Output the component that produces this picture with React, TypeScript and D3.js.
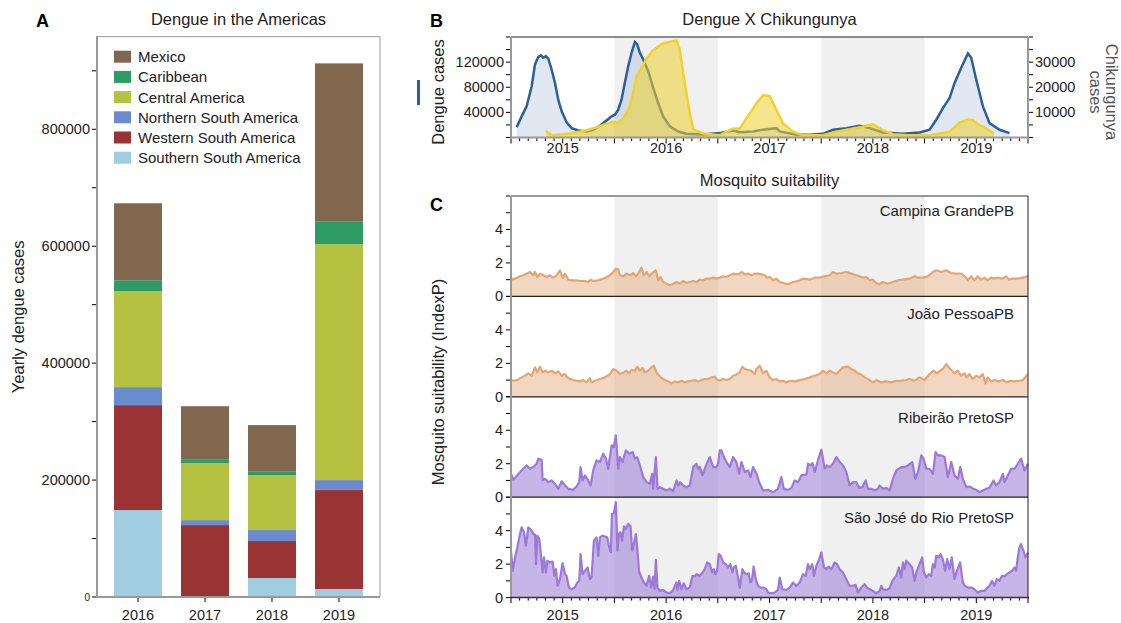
import React, { useEffect, useRef } from 'react'
import * as d3 from 'd3'

const FONT = '"Liberation Sans", Arial, Helvetica, sans-serif'

// ---- Panel A: yearly dengue cases by region ----
const barYears = ['2016', '2017', '2018', '2019']
const regionNames = ['Mexico', 'Caribbean', 'Central America', 'Northern South America', 'Western South America', 'Southern South America']
const regionColors = ['#80674d', '#2f9b64', '#b5c141', '#6a8bcd', '#9a3333', '#a1cde0']
const mexico = [131600, 90600, 79800, 270000]
const caribbean = [18800, 6800, 5700, 39300]
const centralAmerica = [164000, 97400, 94000, 403400]
const northernSA = [30800, 8500, 18800, 17100]
const westernSA = [179500, 123000, 63200, 169200]
const southernSA = [148700, 0, 32500, 13700]

// ---- Panel B: dengue vs chikungunya (decimal year, cases) ----
const dengueCases: [number, number][] = [
  [2014.555, 16500], [2014.603, 33600], [2014.651, 49600], [2014.700, 81600], [2014.732, 116300], [2014.764, 128500],
  [2014.790, 130700], [2014.812, 127000], [2014.838, 129600], [2014.861, 125300], [2014.893, 108300], [2014.925, 87000],
  [2014.957, 60300], [2014.990, 41600], [2015.038, 24000], [2015.086, 14900], [2015.151, 11200], [2015.231, 9600],
  [2015.295, 12300], [2015.360, 18700], [2015.424, 27200], [2015.473, 33600], [2015.505, 36300], [2015.537, 44300],
  [2015.569, 60300], [2015.601, 87000], [2015.634, 113600], [2015.666, 134900], [2015.698, 152000], [2015.721, 148300],
  [2015.746, 134900], [2015.779, 124200], [2015.827, 105500], [2015.875, 78900], [2015.923, 54900], [2015.972, 33600],
  [2016.036, 17600], [2016.117, 9600], [2016.197, 5900], [2016.358, 4800], [2016.519, 7000], [2016.648, 11200],
  [2016.712, 8500], [2016.841, 9600], [2016.970, 13300], [2017.067, 14900], [2017.099, 9600], [2017.260, 4300],
  [2017.389, 4300], [2017.518, 5900], [2017.614, 12300], [2017.743, 14900], [2017.872, 18700], [2017.969, 14900],
  [2018.097, 8000], [2018.291, 5900], [2018.452, 8000], [2018.548, 12300], [2018.613, 28300], [2018.677, 46900],
  [2018.742, 62900], [2018.790, 86900], [2018.854, 110900], [2018.919, 133900], [2018.951, 126900], [2018.999, 92300],
  [2019.064, 49600], [2019.128, 22900], [2019.225, 12300], [2019.321, 6900],
]
const chikCases: [number, number][] = [
  [2014.838, 2700], [2014.893, 900], [2015.070, 1600], [2015.231, 2900], [2015.360, 4500], [2015.489, 6300],
  [2015.521, 5600], [2015.585, 7600], [2015.650, 12200], [2015.714, 24200], [2015.811, 31500], [2015.875, 34800],
  [2015.972, 37500], [2016.101, 38600], [2016.133, 34800], [2016.181, 21500], [2016.229, 9600], [2016.262, 3200],
  [2016.358, 1600], [2016.519, 900], [2016.648, 3600], [2016.712, 3600], [2016.809, 9600], [2016.874, 13600],
  [2016.938, 16900], [2017.002, 16500], [2017.067, 10900], [2017.131, 5600], [2017.228, 2300], [2017.324, 900],
  [2017.518, 900], [2017.647, 2300], [2017.808, 3600], [2017.904, 4300], [2018.001, 5300], [2018.097, 2900],
  [2018.194, 1300], [2018.355, 900], [2018.548, 900], [2018.742, 2300], [2018.838, 5900], [2018.919, 7200],
  [2018.967, 6900], [2019.031, 4900], [2019.096, 3600], [2019.170, 1600],
]

// ---- Panel C: mosquito suitability index P (decimal year, index) ----
const stationNames = ['Campina GrandePB', 'João PessoaPB', 'Ribeirão PretoSP', 'São José do Rio PretoSP']
const stationColors = ['#e3a673', '#e3a673', '#9b79d6', '#9b79d6']

const campinaGrande: [number, number][] = [
  [2014.500, 1.0], [2014.539, 1.06], [2014.587, 1.2], [2014.619, 1.26], [2014.651, 1.36], [2014.684, 1.46], [2014.716, 1.26],
  [2014.732, 1.46], [2014.754, 1.16], [2014.780, 1.36], [2014.812, 1.26], [2014.845, 1.16], [2014.877, 1.26], [2014.909, 1.12],
  [2014.941, 1.26], [2014.973, 1.56], [2014.999, 1.12], [2015.022, 1.36], [2015.054, 1.0], [2015.086, 0.96], [2015.134, 0.96],
  [2015.167, 0.92], [2015.215, 0.92], [2015.247, 0.86], [2015.270, 1.0], [2015.295, 0.92], [2015.344, 0.96], [2015.392, 1.06],
  [2015.440, 1.2], [2015.482, 1.4], [2015.514, 1.66], [2015.537, 1.6], [2015.553, 1.26], [2015.585, 1.2], [2015.617, 1.36],
  [2015.650, 1.26], [2015.682, 1.4], [2015.708, 1.2], [2015.730, 1.36], [2015.762, 1.72], [2015.785, 1.26], [2015.811, 1.46],
  [2015.836, 1.2], [2015.859, 1.36], [2015.881, 1.46], [2015.901, 1.56], [2015.923, 0.96], [2015.946, 1.16], [2015.972, 0.86],
  [2016.004, 0.76], [2016.036, 0.66], [2016.068, 0.76], [2016.100, 0.86], [2016.133, 0.76], [2016.165, 0.92], [2016.197, 0.8],
  [2016.229, 0.86], [2016.261, 0.92], [2016.294, 0.86], [2016.326, 1.0], [2016.358, 0.96], [2016.390, 1.06], [2016.422, 1.06],
  [2016.455, 1.12], [2016.487, 1.06], [2016.519, 1.12], [2016.551, 1.2], [2016.583, 1.16], [2016.616, 1.26], [2016.648, 1.36],
  [2016.680, 1.32], [2016.712, 1.36], [2016.732, 1.46], [2016.761, 1.32], [2016.793, 1.36], [2016.825, 1.26], [2016.857, 1.36],
  [2016.889, 1.36], [2016.921, 1.32], [2016.954, 1.26], [2016.976, 1.12], [2017.002, 1.16], [2017.034, 0.96], [2017.066, 1.06],
  [2017.099, 0.86], [2017.131, 0.8], [2017.180, 0.72], [2017.228, 0.86], [2017.276, 0.92], [2017.324, 1.06], [2017.389, 1.0],
  [2017.437, 1.12], [2017.485, 1.12], [2017.533, 1.2], [2017.582, 1.26], [2017.614, 1.46], [2017.646, 1.36], [2017.694, 1.4],
  [2017.743, 1.46], [2017.791, 1.36], [2017.839, 1.26], [2017.871, 1.2], [2017.904, 1.12], [2017.936, 1.16], [2017.968, 0.96],
  [2018.000, 1.0], [2018.032, 0.8], [2018.065, 0.72], [2018.097, 0.86], [2018.145, 0.76], [2018.193, 0.86], [2018.242, 0.96],
  [2018.290, 1.0], [2018.354, 1.06], [2018.403, 1.2], [2018.435, 1.12], [2018.483, 1.12], [2018.532, 1.2], [2018.580, 1.46],
  [2018.612, 1.56], [2018.661, 1.46], [2018.709, 1.56], [2018.757, 1.4], [2018.805, 1.36], [2018.853, 1.36], [2018.902, 1.12],
  [2018.918, 0.96], [2018.950, 1.2], [2018.982, 0.96], [2019.014, 1.2], [2019.047, 1.0], [2019.079, 1.12], [2019.111, 0.96],
  [2019.143, 1.12], [2019.175, 1.06], [2019.208, 1.12], [2019.257, 1.06], [2019.289, 1.2], [2019.315, 1.0], [2019.353, 1.06],
  [2019.401, 1.06], [2019.450, 1.12], [2019.500, 1.2],
]
const joaoPessoa: [number, number][] = [
  [2014.500, 1.0], [2014.539, 0.96], [2014.571, 1.04], [2014.603, 1.16], [2014.635, 1.26], [2014.667, 1.4], [2014.700, 1.26],
  [2014.732, 1.76], [2014.754, 1.46], [2014.780, 1.8], [2014.806, 1.46], [2014.829, 1.56], [2014.861, 1.46], [2014.893, 1.56],
  [2014.925, 1.4], [2014.957, 1.52], [2014.990, 1.26], [2015.022, 1.36], [2015.038, 1.2], [2015.070, 1.06], [2015.102, 1.0],
  [2015.134, 0.96], [2015.167, 0.92], [2015.199, 1.0], [2015.231, 0.86], [2015.263, 1.12], [2015.279, 0.86], [2015.311, 0.96],
  [2015.360, 1.06], [2015.408, 1.16], [2015.456, 1.36], [2015.489, 1.66], [2015.521, 1.56], [2015.553, 1.36], [2015.592, 1.46],
  [2015.617, 1.56], [2015.643, 1.4], [2015.666, 1.6], [2015.698, 1.56], [2015.720, 1.8], [2015.746, 1.56], [2015.772, 1.72],
  [2015.795, 1.46], [2015.827, 1.56], [2015.859, 1.76], [2015.881, 1.86], [2015.907, 1.46], [2015.933, 1.26], [2015.955, 1.12],
  [2015.988, 1.0], [2016.020, 0.92], [2016.052, 0.8], [2016.084, 0.92], [2016.116, 0.86], [2016.149, 0.96], [2016.181, 0.86],
  [2016.213, 0.92], [2016.245, 0.96], [2016.277, 1.0], [2016.310, 0.92], [2016.342, 1.0], [2016.374, 1.06], [2016.406, 1.06],
  [2016.438, 1.16], [2016.471, 1.2], [2016.487, 1.06], [2016.519, 0.96], [2016.551, 1.06], [2016.583, 1.0], [2016.616, 1.06],
  [2016.648, 1.26], [2016.680, 1.32], [2016.712, 1.46], [2016.738, 1.8], [2016.761, 1.66], [2016.793, 1.6], [2016.825, 1.56],
  [2016.857, 1.36], [2016.873, 1.66], [2016.905, 1.86], [2016.938, 1.4], [2016.970, 1.56], [2017.002, 1.16], [2017.034, 1.0],
  [2017.066, 1.06], [2017.099, 0.92], [2017.131, 0.96], [2017.163, 0.86], [2017.196, 0.96], [2017.244, 0.92], [2017.292, 1.0],
  [2017.340, 1.06], [2017.389, 1.16], [2017.437, 1.26], [2017.485, 1.36], [2017.517, 1.56], [2017.549, 1.4], [2017.582, 1.56],
  [2017.614, 1.46], [2017.646, 1.36], [2017.678, 1.56], [2017.710, 1.76], [2017.759, 1.8], [2017.791, 1.66], [2017.823, 1.56],
  [2017.855, 1.4], [2017.887, 1.32], [2017.920, 1.16], [2017.968, 1.0], [2018.000, 0.86], [2018.032, 1.0], [2018.081, 0.86],
  [2018.129, 0.92], [2018.178, 0.86], [2018.226, 0.96], [2018.274, 0.96], [2018.322, 1.0], [2018.354, 1.06], [2018.403, 0.96],
  [2018.451, 1.16], [2018.500, 1.0], [2018.548, 1.36], [2018.587, 1.56], [2018.619, 1.4], [2018.651, 1.56], [2018.676, 1.66],
  [2018.709, 1.96], [2018.734, 1.76], [2018.766, 1.56], [2018.789, 1.4], [2018.821, 1.56], [2018.853, 1.26], [2018.886, 1.4],
  [2018.908, 1.16], [2018.934, 1.36], [2018.966, 1.06], [2018.999, 1.26], [2019.031, 1.16], [2019.063, 1.36], [2019.089, 0.8],
  [2019.111, 1.16], [2019.143, 0.92], [2019.175, 1.0], [2019.217, 0.92], [2019.257, 1.0], [2019.295, 0.86], [2019.327, 0.96],
  [2019.369, 0.92], [2019.417, 0.96], [2019.450, 1.0], [2019.500, 1.36],
]
const ribeiraoPreto: [number, number][] = [
  [2014.500, 1.4], [2014.523, 1.04], [2014.587, 1.5], [2014.619, 1.7], [2014.651, 1.9], [2014.684, 1.7], [2014.716, 1.8],
  [2014.748, 2.0], [2014.764, 2.3], [2014.796, 2.24], [2014.806, 1.0], [2014.829, 1.1], [2014.861, 0.9], [2014.893, 1.0],
  [2014.925, 0.8], [2014.957, 0.5], [2014.990, 0.95], [2015.022, 0.7], [2015.054, 0.5], [2015.102, 0.44], [2015.134, 0.64],
  [2015.160, 0.9], [2015.173, 1.8], [2015.192, 1.0], [2015.215, 1.3], [2015.247, 1.0], [2015.270, 0.7], [2015.295, 1.6],
  [2015.328, 2.2], [2015.360, 2.1], [2015.392, 2.6], [2015.418, 2.3], [2015.440, 1.7], [2015.473, 3.1], [2015.495, 3.0],
  [2015.514, 3.7], [2015.537, 1.7], [2015.553, 2.4], [2015.579, 2.1], [2015.611, 2.8], [2015.643, 2.6], [2015.676, 2.7],
  [2015.698, 2.3], [2015.721, 2.4], [2015.746, 1.9], [2015.779, 1.2], [2015.811, 0.9], [2015.843, 0.8], [2015.866, 1.4],
  [2015.875, 0.5], [2015.901, 2.4], [2015.917, 0.5], [2015.940, 0.6], [2015.972, 0.5], [2016.004, 0.4], [2016.036, 0.5],
  [2016.068, 0.36], [2016.101, 1.0], [2016.117, 0.7], [2016.133, 0.9], [2016.165, 0.7], [2016.197, 0.6], [2016.229, 0.7],
  [2016.262, 1.8], [2016.294, 2.0], [2016.310, 1.7], [2016.326, 1.8], [2016.352, 1.3], [2016.374, 1.7], [2016.407, 2.2],
  [2016.423, 2.4], [2016.455, 1.8], [2016.487, 1.8], [2016.503, 2.0], [2016.519, 2.8], [2016.535, 2.8], [2016.558, 2.4],
  [2016.584, 2.1], [2016.616, 1.8], [2016.648, 2.4], [2016.680, 2.1], [2016.706, 1.4], [2016.729, 2.1], [2016.761, 1.5],
  [2016.793, 1.6], [2016.816, 1.2], [2016.841, 1.8], [2016.874, 1.4], [2016.906, 0.8], [2016.938, 0.4], [2016.986, 0.44],
  [2017.035, 0.3], [2017.051, 0.36], [2017.083, 0.5], [2017.115, 1.2], [2017.138, 0.5], [2017.180, 0.44], [2017.212, 0.56],
  [2017.244, 1.0], [2017.276, 0.9], [2017.308, 1.3], [2017.357, 1.36], [2017.373, 2.0], [2017.395, 1.9], [2017.415, 2.04],
  [2017.437, 1.5], [2017.469, 2.2], [2017.502, 2.84], [2017.534, 1.7], [2017.556, 1.9], [2017.582, 1.8], [2017.614, 2.0],
  [2017.647, 2.4], [2017.679, 2.1], [2017.711, 1.9], [2017.743, 1.5], [2017.775, 0.7], [2017.808, 0.9], [2017.840, 0.9],
  [2017.866, 0.56], [2017.898, 0.6], [2017.930, 1.0], [2017.952, 0.5], [2017.985, 0.5], [2018.017, 0.4], [2018.049, 0.5],
  [2018.065, 0.7], [2018.097, 0.5], [2018.130, 0.56], [2018.162, 0.4], [2018.194, 1.1], [2018.226, 1.6], [2018.275, 1.8],
  [2018.307, 1.8], [2018.339, 1.9], [2018.381, 2.1], [2018.410, 1.1], [2018.436, 1.5], [2018.468, 2.5], [2018.490, 2.3],
  [2018.516, 1.7], [2018.548, 1.7], [2018.581, 1.4], [2018.606, 2.7], [2018.629, 2.5], [2018.661, 2.5], [2018.693, 2.4],
  [2018.725, 1.2], [2018.758, 2.1], [2018.790, 1.3], [2018.822, 1.1], [2018.845, 1.8], [2018.870, 1.1], [2018.903, 0.6],
  [2018.935, 0.64], [2018.973, 0.5], [2018.999, 0.44], [2019.031, 0.3], [2019.064, 0.4], [2019.096, 0.5], [2019.128, 0.56],
  [2019.167, 1.0], [2019.192, 0.7], [2019.225, 0.9], [2019.257, 1.4], [2019.273, 0.9], [2019.305, 1.3], [2019.337, 1.7],
  [2019.370, 1.7], [2019.402, 2.0], [2019.434, 2.3], [2019.466, 1.6], [2019.500, 2.0],
]
const saoJose: [number, number][] = [
  [2014.500, 2.8], [2014.516, 1.6], [2014.539, 2.4], [2014.561, 3.0], [2014.587, 3.8], [2014.603, 4.2], [2014.626, 3.9],
  [2014.645, 3.1], [2014.667, 4.2], [2014.700, 4.0], [2014.716, 3.8], [2014.732, 3.75], [2014.742, 2.0], [2014.754, 3.7],
  [2014.774, 3.5], [2014.787, 2.7], [2014.806, 1.5], [2014.819, 2.4], [2014.838, 1.5], [2014.851, 2.2], [2014.877, 2.1],
  [2014.903, 2.15], [2014.919, 1.3], [2014.935, 1.7], [2014.951, 0.7], [2014.973, 1.1], [2014.999, 2.06], [2015.022, 1.4],
  [2015.038, 1.3], [2015.060, 0.6], [2015.086, 0.5], [2015.118, 0.6], [2015.141, 0.9], [2015.160, 1.0], [2015.173, 2.6],
  [2015.192, 1.4], [2015.215, 1.6], [2015.241, 1.8], [2015.263, 1.1], [2015.279, 1.2], [2015.302, 3.4], [2015.328, 3.6],
  [2015.344, 2.5], [2015.360, 3.6], [2015.386, 3.7], [2015.408, 3.65], [2015.431, 3.6], [2015.450, 3.0], [2015.466, 2.7],
  [2015.476, 5.0], [2015.495, 5.06], [2015.514, 5.7], [2015.530, 2.8], [2015.543, 3.8], [2015.559, 3.9], [2015.575, 3.4],
  [2015.592, 4.26], [2015.611, 4.1], [2015.633, 4.4], [2015.656, 4.26], [2015.672, 2.8], [2015.688, 3.2], [2015.708, 3.8],
  [2015.720, 3.0], [2015.740, 1.5], [2015.762, 1.2], [2015.785, 0.9], [2015.811, 0.7], [2015.836, 1.3], [2015.856, 0.6],
  [2015.875, 1.26], [2015.888, 0.5], [2015.901, 2.26], [2015.917, 0.6], [2015.939, 0.4], [2015.972, 0.46], [2016.004, 0.3],
  [2016.036, 0.26], [2016.068, 0.46], [2016.100, 0.9], [2016.110, 0.46], [2016.126, 1.0], [2016.149, 0.5], [2016.171, 0.86],
  [2016.197, 0.5], [2016.229, 0.6], [2016.255, 1.3], [2016.277, 1.26], [2016.294, 1.4], [2016.326, 1.3], [2016.352, 1.5],
  [2016.374, 1.7], [2016.397, 2.1], [2016.422, 2.0], [2016.445, 1.5], [2016.461, 1.7], [2016.477, 1.4], [2016.493, 1.6],
  [2016.509, 2.6], [2016.529, 2.5], [2016.551, 2.1], [2016.577, 2.0], [2016.599, 1.8], [2016.622, 2.0], [2016.641, 1.5],
  [2016.654, 1.8], [2016.674, 1.9], [2016.696, 1.2], [2016.712, 0.6], [2016.738, 1.7], [2016.754, 1.5], [2016.777, 1.4],
  [2016.799, 1.45], [2016.815, 0.9], [2016.831, 1.06], [2016.847, 1.86], [2016.867, 1.1], [2016.889, 0.7], [2016.912, 0.6],
  [2016.938, 0.6], [2016.970, 0.5], [2016.986, 0.3], [2017.018, 0.26], [2017.050, 0.3], [2017.082, 0.46], [2017.099, 1.2],
  [2017.124, 0.5], [2017.163, 0.46], [2017.195, 0.6], [2017.227, 0.9], [2017.260, 0.7], [2017.292, 0.9], [2017.324, 1.4],
  [2017.350, 1.3], [2017.372, 2.0], [2017.388, 1.7], [2017.414, 2.0], [2017.430, 1.3], [2017.453, 1.9], [2017.475, 2.2],
  [2017.501, 2.7], [2017.527, 1.8], [2017.549, 1.7], [2017.575, 1.85], [2017.598, 1.7], [2017.630, 2.1], [2017.652, 2.0],
  [2017.678, 1.7], [2017.710, 1.5], [2017.743, 1.1], [2017.775, 0.7], [2017.807, 0.7], [2017.833, 0.76], [2017.855, 0.3],
  [2017.887, 0.6], [2017.920, 0.8], [2017.942, 0.6], [2017.968, 0.5], [2018.000, 0.4], [2018.032, 0.26], [2018.065, 0.4],
  [2018.081, 0.7], [2018.097, 0.5], [2018.129, 0.46], [2018.161, 0.56], [2018.193, 1.06], [2018.226, 1.3], [2018.251, 1.8],
  [2018.274, 1.2], [2018.290, 2.1], [2018.306, 1.7], [2018.322, 2.2], [2018.354, 2.0], [2018.380, 1.8], [2018.403, 1.0],
  [2018.425, 1.6], [2018.451, 2.0], [2018.477, 2.4], [2018.493, 1.5], [2018.515, 1.2], [2018.541, 1.4], [2018.564, 1.3],
  [2018.580, 2.0], [2018.599, 1.8], [2018.612, 2.5], [2018.638, 2.4], [2018.654, 2.6], [2018.676, 2.3], [2018.699, 1.6],
  [2018.718, 2.3], [2018.741, 1.7], [2018.763, 2.4], [2018.789, 1.1], [2018.812, 1.6], [2018.844, 2.1], [2018.870, 0.9],
  [2018.892, 0.7], [2018.918, 0.6], [2018.950, 0.6], [2018.982, 0.5], [2019.014, 0.3], [2019.047, 0.4], [2019.079, 0.4],
  [2019.101, 0.56], [2019.127, 0.7], [2019.153, 1.0], [2019.175, 0.7], [2019.198, 1.1], [2019.224, 1.0], [2019.249, 1.3],
  [2019.272, 1.26], [2019.295, 1.4], [2019.320, 1.5], [2019.346, 1.6], [2019.369, 1.8], [2019.385, 1.6], [2019.401, 2.4],
  [2019.417, 3.0], [2019.433, 3.2], [2019.456, 2.8], [2019.475, 2.4], [2019.500, 2.7],
]
const stationSeries = [campinaGrande, joaoPessoa, ribeiraoPreto, saoJose]

const shadedPeriods = [[2015.5, 2016.5], [2017.5, 2018.5]]
const tickYears = [2015, 2016, 2017, 2018, 2019]

type G = d3.Selection<SVGGElement, unknown, null, undefined>

function line(g: G, x1: number, y1: number, x2: number, y2: number, stroke: string, w: number) {
  g.append('line').attr('x1', x1).attr('y1', y1).attr('x2', x2).attr('y2', y2)
    .attr('stroke', stroke).attr('stroke-width', w)
}

function timeAxis(g: G, x: d3.ScaleLinear<number, number>, y0: number, labelY: number) {
  const months = d3.range(0, 61).map(i => 2014.5 + i / 12)
  months.forEach((m, i) => {
    const major = i % 6 === 0
    line(g, x(m), y0, x(m), y0 + (major ? 5 : 2.5), '#000', 1)
  })
  g.selectAll(null)
    .data(tickYears)
    .join('text')
    .attr('x', d => x(d))
    .attr('y', labelY)
    .attr('text-anchor', 'middle')
    .attr('font-size', 14.5)
    .attr('fill', '#222')
    .text(d => d)
}

function drawBars(svg: d3.Selection<SVGSVGElement, unknown, null, undefined>) {
  const g = svg.append('g')
  const left = 97, right = 380, top = 36.7, bottom = 597
  const table = barYears.map((yr, i) => ({
    year: yr,
    'Mexico': mexico[i],
    'Caribbean': caribbean[i],
    'Central America': centralAmerica[i],
    'Northern South America': northernSA[i],
    'Western South America': westernSA[i],
    'Southern South America': southernSA[i],
  }))
  const totals = table.map((_, i) => mexico[i] + caribbean[i] + centralAmerica[i] + northernSA[i] + westernSA[i] + southernSA[i])
  const x = d3.scaleBand().domain(barYears).range([left, right]).paddingInner(0.284).paddingOuter(0.254)
  const y = d3.scaleLinear().domain([0, (d3.max(totals) as number) * 1.05]).range([bottom, top])
  const color = d3.scaleOrdinal<string, string>().domain(regionNames).range(regionColors)

  const stacked = d3.stack<any>().keys([...regionNames].reverse())(table)
  g.selectAll('g.layer')
    .data(stacked)
    .join('g')
    .attr('fill', d => color(d.key))
    .selectAll('rect')
    .data(d => d)
    .join('rect')
    .attr('x', d => x(d.data.year) as number)
    .attr('width', x.bandwidth())
    .attr('y', d => y(d[1]))
    .attr('height', d => y(d[0]) - y(d[1]))

  // frame
  line(g, left, top, right, top, '#999', 1)
  line(g, right, top, right, bottom, '#999', 1)
  line(g, left, top - 0.5, left, bottom + 1, '#999', 2)
  line(g, left - 1, bottom, right, bottom, '#999', 2)

  d3.range(0, 950000, 100000).forEach(v => {
    line(g, left - 5, y(v), left - 1, y(v), '#000', 1)
    if (v % 200000 === 0) {
      g.append('text').attr('x', left - 7).attr('y', y(v) + 5)
        .attr('text-anchor', 'end').attr('font-size', v === 0 ? 10 : 14.5).attr('fill', '#222')
        .attr('dy', v === 0 ? -1.5 : 0)
        .text(d3.format('d')(v))
    }
  })
  barYears.forEach(yr => {
    const cx = (x(yr) as number) + x.bandwidth() / 2
    line(g, cx, bottom + 1, cx, bottom + 5, '#000', 1)
    g.append('text').attr('x', cx).attr('y', 619.5).attr('text-anchor', 'middle')
      .attr('font-size', 14.5).attr('fill', '#222').text(yr)
  })

  // legend
  regionNames.forEach((name, i) => {
    const cy = 56.7 + i * 20.2
    g.append('rect').attr('x', 114).attr('y', cy - 6).attr('width', 17).attr('height', 12).attr('fill', color(name))
    g.append('text').attr('x', 138).attr('y', cy + 5.5).attr('font-size', 15).attr('fill', '#222').text(name)
  })

  g.append('text').attr('x', (left + right) / 2).attr('y', 25).attr('text-anchor', 'middle')
    .attr('font-size', 16.5).attr('fill', '#222').text('Dengue in the Americas')
  g.append('text').attr('transform', `translate(23.5, ${(top + bottom) / 2}) rotate(-90)`)
    .attr('text-anchor', 'middle').attr('font-size', 16.5).attr('fill', '#222').text('Yearly dengue cases')
  g.append('text').attr('x', 36).attr('y', 27).attr('font-size', 18).attr('font-weight', 'bold').text('A')
}

function drawDengue(svg: d3.Selection<SVGSVGElement, unknown, null, undefined>) {
  const g = svg.append('g')
  const left = 511, right = 1028, top = 37, bottom = 137.5
  const x = d3.scaleLinear().domain([2014.5, 2019.5]).range([left, right])
  const yL = d3.scaleLinear().domain([0, 160000]).range([bottom, top])
  const yR = d3.scaleLinear().domain([0, 40000]).range([bottom, top])

  shadedPeriods.forEach(([a, b]) => {
    g.append('rect').attr('x', x(a)).attr('y', top).attr('width', x(b) - x(a)).attr('height', bottom - top).attr('fill', '#f0f0f0')
  })

  const areaL = d3.area<[number, number]>().x(d => x(d[0])).y0(bottom).y1(d => yL(d[1]))
  const lineL = d3.line<[number, number]>().x(d => x(d[0])).y(d => yL(d[1]))
  const areaR = d3.area<[number, number]>().x(d => x(d[0])).y0(bottom).y1(d => yR(d[1]))
  const lineR = d3.line<[number, number]>().x(d => x(d[0])).y(d => yR(d[1]))

  g.append('path').attr('d', areaL(dengueCases)).attr('fill', '#2d5f99').attr('fill-opacity', 0.14)
  g.append('path').attr('d', lineL(dengueCases)).attr('fill', 'none').attr('stroke', '#2d5f99').attr('stroke-width', 2.5)
  g.append('path').attr('d', areaR(chikCases)).attr('fill', '#edd02e').attr('fill-opacity', 0.55)
  g.append('path').attr('d', lineR(chikCases)).attr('fill', 'none').attr('stroke', '#f0d22f').attr('stroke-width', 2.5)

  line(g, left, top, right, top, '#222', 1)
  line(g, left, top, left, bottom, '#999', 2)
  line(g, right, top, right, bottom, '#999', 2)
  line(g, left - 1, bottom, right + 1, bottom, '#999', 2)

  d3.range(0, 160001, 20000).forEach(v => {
    line(g, left - 5, yL(v), left - 1, yL(v), '#000', 1)
    if (v > 0 && v % 40000 === 0 && v < 160000) {
      g.append('text').attr('x', left - 7).attr('y', yL(v) + 5).attr('text-anchor', 'end')
        .attr('font-size', 14.5).attr('fill', '#222').text(d3.format('d')(v))
    }
  })
  d3.range(0, 40001, 5000).forEach(v => {
    line(g, right + 1, yR(v), right + 5, yR(v), '#000', 1)
    if (v > 0 && v % 10000 === 0 && v < 40000) {
      g.append('text').attr('x', right + 7).attr('y', yR(v) + 5).attr('text-anchor', 'start')
        .attr('font-size', 14.5).attr('fill', '#222').text(d3.format('d')(v))
    }
  })
  timeAxis(g, x, bottom + 1, 153)

  g.append('text').attr('x', (left + right) / 2).attr('y', 25).attr('text-anchor', 'middle')
    .attr('font-size', 16.5).attr('fill', '#222').text('Dengue X Chikungunya')
  g.append('text').attr('transform', `translate(443.5, 92) rotate(-90)`)
    .attr('text-anchor', 'middle').attr('font-size', 16.5).attr('fill', '#222').text('Dengue cases')
  g.append('rect').attr('x', 417).attr('y', 80).attr('width', 3).attr('height', 25).attr('fill', '#2d5f99')
  g.append('text').attr('transform', `translate(1106, 92) rotate(90)`)
    .attr('text-anchor', 'middle').attr('font-size', 16.5).attr('fill', '#555').text('Chikungunya')
  g.append('text').attr('transform', `translate(1089.5, 92) rotate(90)`)
    .attr('text-anchor', 'middle').attr('font-size', 16.5).attr('fill', '#555').text('cases')
  g.append('text').attr('x', 430).attr('y', 27).attr('font-size', 18).attr('font-weight', 'bold').text('B')
}

function drawSuitability(svg: d3.Selection<SVGSVGElement, unknown, null, undefined>) {
  const g = svg.append('g')
  const left = 511, right = 1028, top = 196, h = 100.4
  const bottom = top + h * 4
  const x = d3.scaleLinear().domain([2014.5, 2019.5]).range([left, right])
  const labelOffsets = [20, 23, 26, 25.5]

  shadedPeriods.forEach(([a, b]) => {
    g.append('rect').attr('x', x(a)).attr('y', top).attr('width', x(b) - x(a)).attr('height', bottom - top).attr('fill', '#f0f0f0')
  })

  stationSeries.forEach((data, i) => {
    const t = top + i * h
    const y = d3.scaleLinear().domain([0, 6]).range([t + h, t])
    const area = d3.area<[number, number]>().x(d => x(d[0])).y0(t + h).y1(d => y(d[1]))
    const ln = d3.line<[number, number]>().x(d => x(d[0])).y(d => y(d[1]))
    g.append('path').attr('d', area(data)).attr('fill', stationColors[i]).attr('fill-opacity', i < 2 ? 0.45 : 0.55)
    g.append('path').attr('d', ln(data)).attr('fill', 'none').attr('stroke', stationColors[i])
      .attr('stroke-width', 2.2).attr('stroke-linejoin', 'round')

    d3.range(0, 7).forEach(v => {
      line(g, left - 5, y(v), left - 1, y(v), '#000', 1)
      if (v % 2 === 0 && v < 6) {
        g.append('text').attr('x', left - 8).attr('y', y(v) + 5).attr('text-anchor', 'end')
          .attr('font-size', 14.5).attr('fill', '#222').text(v)
      }
    })
    if (i > 0) line(g, left, t, right, t, '#222', 1.3)
    g.append('text').attr('x', 1014).attr('y', t + labelOffsets[i]).attr('text-anchor', 'end')
      .attr('font-size', 15).attr('fill', '#222').text(stationNames[i])
  })

  line(g, left, top, right, top, '#999', 2)
  line(g, right, top, right, bottom, '#222', 1)
  line(g, left, top, left, bottom, '#999', 2)
  line(g, left - 1, bottom, right + 1, bottom, '#333', 1.5)
  timeAxis(g, x, bottom + 0.5, 619.5)

  g.append('text').attr('x', (left + right) / 2).attr('y', 186).attr('text-anchor', 'middle')
    .attr('font-size', 16.5).attr('fill', '#222').text('Mosquito suitability')
  g.append('text').attr('transform', `translate(443.5, 382) rotate(-90)`)
    .attr('text-anchor', 'middle').attr('font-size', 16.5).attr('fill', '#222').text('Mosquito suitability (IndexP)')
  g.append('text').attr('x', 430).attr('y', 211).attr('font-size', 18).attr('font-weight', 'bold').text('C')
}

const App = () => {
  const ref = useRef<SVGSVGElement>(null)

  useEffect(() => {
    const svg = d3.select(ref.current as SVGSVGElement)
    svg.selectAll('*').remove()
    drawBars(svg)
    drawDengue(svg)
    drawSuitability(svg)
  }, [])

  return (
    <svg
      ref={ref}
      width={1121}
      height={623}
      style={{ position: 'absolute', left: 0, top: 0, display: 'block', fontFamily: FONT, background: '#fff' }}
    />
  )
}

export default App
